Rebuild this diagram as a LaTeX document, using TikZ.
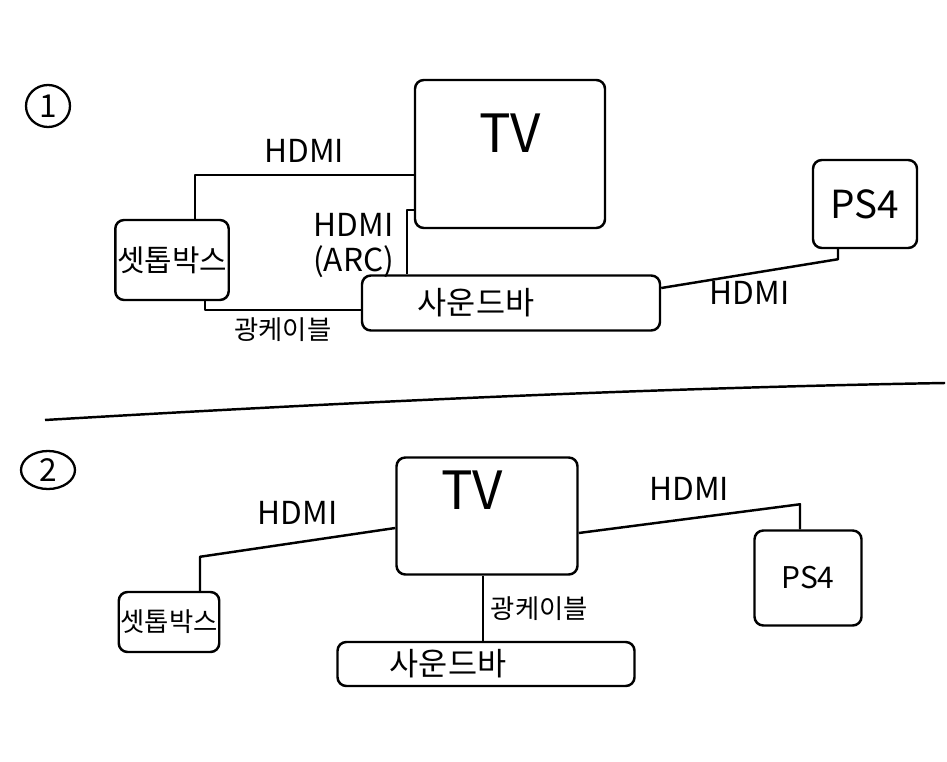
\documentclass[tikz,border=0pt]{standalone}
\usepackage{fontspec}
\setmainfont{Noto Sans CJK KR}
\usetikzlibrary{positioning, shapes.geometric}

\begin{document}
\begin{tikzpicture}[x=0.2mm, y=-0.2mm,
  box/.style={draw, line width=1.4pt, rounded corners=5pt, inner sep=0pt},
  wire/.style={line width=1.4pt, line join=round},
  lbl/.style={font=\fontsize{18}{20}\selectfont, inner sep=1pt},
  klbl/.style={font=\fontsize{15}{18}\selectfont, inner sep=1pt},
  numring/.style={draw, ellipse, line width=1.3pt, inner sep=0pt, font=\fontsize{18}{20}\selectfont}]
\useasboundingbox (0,0) rectangle (947,762);

% 1
\node[numring, minimum width=8.8mm, minimum height=8.4mm] (num1) at (48,106) {1};
\node[box, minimum width=38mm, minimum height=29.6mm,
  label={[font=\fontsize{30}{32}\selectfont, yshift=4.2mm]center:TV}] (tv1) at (510,154) {};
\node[box, minimum width=22.2mm, minimum height=16mm, klbl, font=\fontsize{17}{20}\selectfont] (stb1) at (172,260) {셋톱박스};
\node[box, minimum width=20.8mm, minimum height=17.6mm, font=\fontsize{22}{24}\selectfont] (ps41) at (865,204) {PS4};
\node[box, minimum width=59.6mm, minimum height=11mm,
  label={[klbl, font=\fontsize{18}{20}\selectfont, xshift=-7mm]center:사운드바}] (sb1) at (511,303) {};

\draw[wire] ([xshift=4.6mm]stb1.north) |- node[lbl, pos=0.75, above=2mm] {HDMI} ([yshift=-4.2mm]tv1.west);
\draw[wire] ([yshift=-11.2mm]tv1.west) -| node[lbl, pos=0.75, left=2mm, yshift=-0.6mm, align=center] {HDMI\\(ARC)} ([xshift=-20.8mm]sb1.north);
\draw[wire] ([xshift=6.6mm]stb1.south) |- node[klbl, pos=0.75, below=1mm] {광케이블} ([yshift=-1.4mm]sb1.west);
\draw[wire] ([yshift=3mm]sb1.east) -- node[lbl, midway, below=1mm] {HDMI} ([xshift=-5.4mm, yshift=-2mm]ps41.south) -- ([xshift=-5.4mm]ps41.south);

% divider
\draw[wire] (45,420) .. controls (350,402) and (650,388) .. (945,383);

% 2
\node[numring, minimum width=10.8mm, minimum height=7.6mm] (num2) at (48,470) {2};
\node[box, minimum width=36.2mm, minimum height=23.4mm,
  label={[font=\fontsize{30}{32}\selectfont, yshift=5.2mm, xshift=-3mm]center:TV}] (tv2) at (487,516) {};
\node[box, minimum width=19.6mm, minimum height=12mm, klbl] (stb2) at (169,622) {셋톱박스};
\node[box, minimum width=21.4mm, minimum height=19mm, font=\fontsize{17}{20}\selectfont] (ps42) at (808,578) {PS4};
\node[box, minimum width=59.4mm, minimum height=8.8mm,
  label={[klbl, font=\fontsize{18}{20}\selectfont, xshift=-7.6mm]center:사운드바}] (sb2) at (486,664) {};

\draw[wire] ([yshift=-2.4mm]tv2.west) -- node[lbl, midway, above=3mm] {HDMI} ([xshift=6.2mm, yshift=6.8mm]stb2.north) -- ([xshift=6.2mm]stb2.north);
\draw[wire] ([yshift=-3.4mm]tv2.east) -- node[lbl, midway, above=3mm] {HDMI} ([xshift=-1.6mm, yshift=5mm]ps42.north) -- ([xshift=-1.6mm]ps42.north);
\draw[wire] ([xshift=-0.8mm]tv2.south) -- node[klbl, midway, right=1mm] {광케이블} ([xshift=-0.8mm]tv2.south |- sb2.north);
\end{tikzpicture}
\end{document}
